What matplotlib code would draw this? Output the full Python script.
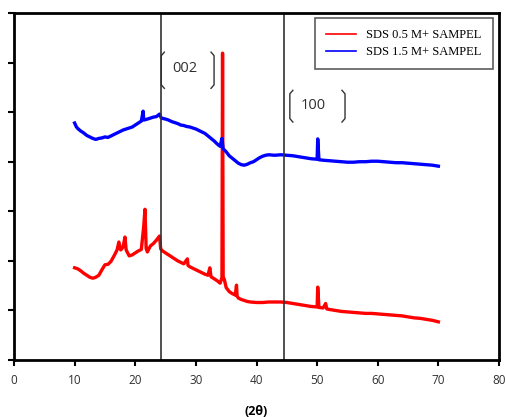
import numpy as np
import matplotlib.pyplot as plt

# two theta values and intensities (arbitrary units)
x_blue = [10.0, 10.3, 10.6, 11.0, 11.5, 12.0, 12.5, 13.0, 13.5, 14.0, 14.5, 15.0, 15.5,
          16.0, 16.5, 17.0, 17.5, 18.0, 18.5, 19.0, 19.5, 20.0, 20.5, 21.0, 21.3, 21.4,
          22.0, 22.5, 23.0, 23.5, 24.0, 24.3, 25.0, 25.5, 26.0, 26.5, 27.0, 27.5, 28.0,
          28.5, 29.0, 29.5, 30.0, 30.5, 31.0, 31.5, 32.0, 32.5, 33.0, 33.5, 34.0, 34.3,
          34.5, 35.0, 35.5, 36.0, 36.5, 37.0, 37.5, 38.0, 38.5, 39.0, 39.5, 40.0, 40.5,
          41.0, 41.5, 42.0, 43.0, 44.0, 45.0, 46.0, 47.0, 48.0, 49.0, 50.0, 50.1, 50.3,
          51.0, 52.0, 53.0, 54.0, 55.0, 56.0, 57.0, 58.0, 59.0, 60.0, 61.0, 62.0, 63.0,
          64.0, 65.0, 66.0, 67.0, 68.0, 69.0, 70.0]
y_blue = [4.78, 4.70, 4.66, 4.62, 4.58, 4.53, 4.50, 4.47, 4.45, 4.47, 4.48, 4.50, 4.49,
          4.52, 4.55, 4.58, 4.61, 4.64, 4.66, 4.68, 4.70, 4.74, 4.78, 4.82, 5.02, 4.84,
          4.86, 4.88, 4.90, 4.91, 4.96, 4.88, 4.86, 4.84, 4.81, 4.79, 4.77, 4.74, 4.73,
          4.71, 4.70, 4.68, 4.66, 4.63, 4.60, 4.57, 4.52, 4.47, 4.42, 4.36, 4.31, 4.47,
          4.26, 4.20, 4.12, 4.07, 4.02, 3.97, 3.94, 3.93, 3.95, 3.98, 4.00, 4.04, 4.08,
          4.11, 4.13, 4.14, 4.13, 4.14, 4.13, 4.12, 4.10, 4.08, 4.06, 4.05, 4.46, 4.04,
          4.03, 4.02, 4.01, 4.00, 3.99, 3.99, 4.00, 4.00, 4.01, 4.01, 4.00, 3.99, 3.98,
          3.98, 3.97, 3.96, 3.95, 3.94, 3.93, 3.91]

x_red = [10.0, 10.5, 11.0, 11.5, 12.0, 12.5, 13.0, 13.5, 14.0, 14.5, 15.0, 15.5, 16.0,
         16.5, 17.0, 17.3, 17.6, 18.0, 18.3, 18.5, 19.0, 19.5, 20.0, 20.5, 21.0, 21.4,
         21.6, 21.8, 22.0, 22.5, 23.0, 23.5, 24.0, 24.2, 24.5, 25.0, 25.5, 26.0, 26.5,
         27.0, 27.5, 28.0, 28.6, 28.7, 29.0, 29.5, 30.0, 30.5, 31.0, 31.5, 32.0, 32.3,
         32.5, 33.0, 33.5, 34.0, 34.3, 34.4, 34.5, 34.7, 35.0, 35.5, 36.0, 36.5, 36.7,
         36.8, 37.0, 37.5, 38.0, 38.5, 39.0, 40.0, 41.0, 42.0, 43.0, 44.0, 45.0, 46.0,
         47.0, 48.0, 49.0, 50.0, 50.1, 50.3, 51.0, 51.4, 51.6, 52.0, 53.0, 54.0, 55.0,
         56.0, 57.0, 58.0, 59.0, 60.0, 61.0, 62.0, 63.0, 64.0, 65.0, 66.0, 67.0, 68.0,
         69.0, 70.0]
y_red = [1.86, 1.84, 1.80, 1.75, 1.71, 1.67, 1.65, 1.67, 1.71, 1.82, 1.92, 1.93, 1.99,
         2.10, 2.22, 2.38, 2.22, 2.28, 2.48, 2.22, 2.10, 2.12, 2.16, 2.20, 2.23, 2.70,
         3.04, 2.25, 2.18, 2.30, 2.35, 2.42, 2.50, 2.24, 2.20, 2.16, 2.12, 2.08, 2.04,
         2.00, 1.97, 1.94, 2.04, 1.91, 1.88, 1.85, 1.82, 1.79, 1.76, 1.73, 1.71, 1.86,
         1.68, 1.64, 1.60, 1.55, 1.66, 6.19, 1.68, 1.62, 1.46, 1.38, 1.34, 1.31, 1.51,
         1.29, 1.25, 1.22, 1.20, 1.18, 1.17, 1.16, 1.16, 1.17, 1.17, 1.17, 1.16, 1.14,
         1.12, 1.10, 1.08, 1.07, 1.47, 1.06, 1.05, 1.14, 1.03, 1.02, 1.00, 0.98, 0.97,
         0.96, 0.95, 0.94, 0.94, 0.93, 0.92, 0.91, 0.90, 0.89, 0.87, 0.85, 0.84, 0.82,
         0.80, 0.77]

peak_pos = [24.2, 44.5]
labels = ['SDS 0.5 M+ SAMPEL', 'SDS 1.5 M+ SAMPEL']

fig = plt.figure(figsize=(5.05, 4.17), dpi=100)
ax = fig.add_axes([14/505, 57/417, 485/505, 347/417])

ax.plot(x_red, y_red, color='#ff0000', lw=2.4, label=labels[0])
ax.plot(x_blue, y_blue, color='#0000ff', lw=2.4, label=labels[1])

for p in peak_pos:
    ax.axvline(p, color='#333333', lw=1.2)

def bracket(x0, x1, y0, y1, txt, tx, ty):
    h, c = 0.5, 0.07
    ax.plot([x0 + h, x0, x0, x0 + h], [y1, y1 - c, y0 + c, y0], color='#333333', lw=1)
    ax.plot([x1 - h, x1, x1, x1 - h], [y1, y1 - c, y0 + c, y0], color='#333333', lw=1)
    ax.text(tx, ty, txt, ha='center', va='center', fontsize=10.5,
            family='Open Sans', color='#303030')

bracket(24.3, 33.0, 5.48, 6.21, '002', 28.2, 5.89)
bracket(45.5, 54.6, 4.80, 5.44, '100', 49.3, 5.14)

ax.set_xlim(0, 80)
ax.set_ylim(0, 7)
ax.set_xticks(np.arange(0, 81, 10))
ax.set_yticks(np.arange(0, 8, 1))
ax.set_yticklabels([])
ax.tick_params(direction='out', length=4, width=1.5, color='black')
ax.tick_params(axis='x', labelsize=8.5, labelcolor='#303030', pad=6)
for lab in ax.get_xticklabels():
    lab.set_family('Open Sans')
for s in ax.spines.values():
    s.set_linewidth(2)

ax.set_xlabel('(2θ)', fontsize=9, fontweight='bold', family='Open Sans', labelpad=13)

leg = ax.legend(loc='upper right', bbox_to_anchor=(1 - 6/485, 1 - 5/347), borderaxespad=0,
                fancybox=False, edgecolor='#333333', handlelength=2.4, handletextpad=0.8,
                borderpad=0.9, labelspacing=0.4, prop={'family': 'Liberation Serif', 'size': 9})
leg.get_frame().set_linewidth(1.2)
for l in leg.get_lines():
    l.set_linewidth(1.2)

fig.savefig('out.png', dpi=100)
